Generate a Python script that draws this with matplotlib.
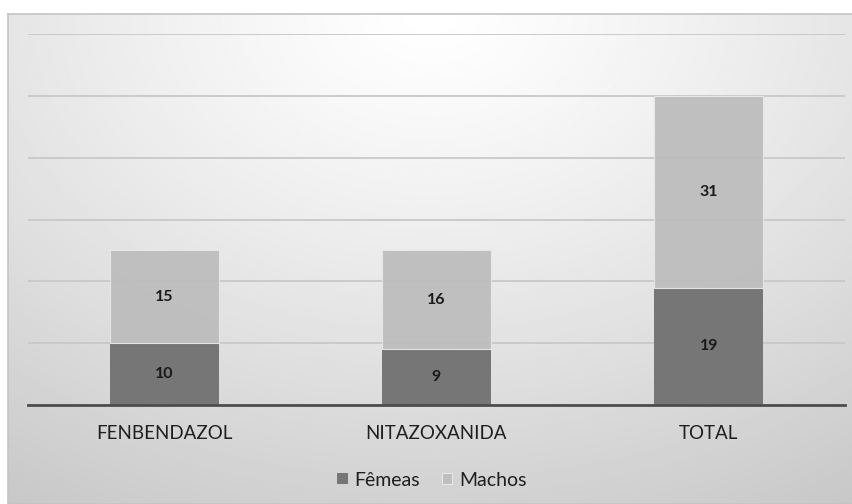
import numpy as np
import matplotlib
matplotlib.use('Agg')
import matplotlib.pyplot as plt

# data
categories = ['FENBENDAZOL', 'NITAZOXANIDA', 'TOTAL']
femeas = [10, 9, 19]
machos = [15, 16, 31]
series_names = ['Fêmeas', 'Machos']
colors = ['#737373', '#bdbdbd']

plt.rcParams['font.family'] = ['Lato', 'DejaVu Sans']

W, H = 853, 504
fig = plt.figure(figsize=(W / 100, H / 100), dpi=100)
fig.patch.set_facecolor('white')

# gradient background panel (chart area frame)
bg = fig.add_axes([8 / W, 0, 1 - 8 / W, 1 - 14 / H], zorder=0)
yy, xx = np.mgrid[0:1:300j, 0:1:500j]
r = np.sqrt(((xx - 0.5) / 0.85) ** 2 + ((yy - 0.0) / 1.05) ** 2)
shade = 1.0 - 0.19 * np.clip(r, 0, 1.2) ** 1.2
bg.imshow(shade, cmap='gray', vmin=0, vmax=1, aspect='auto',
          extent=[0, 1, 1, 0], interpolation='bilinear')
bg.set_xticks([])
bg.set_yticks([])
for s in bg.spines.values():
    s.set_color('#c4c4c4')
    s.set_linewidth(1.2)

ax = fig.add_axes([28 / W, 1 - 405 / H, (845 - 28) / W, (405 - 34) / H], zorder=1)
ax.patch.set_visible(False)

x = np.arange(len(categories))
b1 = ax.bar(x, femeas, width=0.4, color=colors[0], label=series_names[0],
            zorder=2, alpha=0.97)
b2 = ax.bar(x, machos, width=0.4, bottom=femeas, color=colors[1],
            label=series_names[1], zorder=2, alpha=0.95,
            edgecolor='#e8e8e8', linewidth=0.8)

for rect, v in zip(b1, femeas):
    ax.text(rect.get_x() + rect.get_width() / 2, rect.get_y() + v / 2, str(v),
            ha='center', va='center', fontsize=11.5, fontweight='bold', color='#1a1a1a', zorder=3)
for rect, v, f in zip(b2, machos, femeas):
    ax.text(rect.get_x() + rect.get_width() / 2, f + v / 2, str(v),
            ha='center', va='center', fontsize=11.5, fontweight='bold', color='#1a1a1a', zorder=3)

ax.set_xlim(-0.5, len(categories) - 0.5)
ax.set_ylim(0, 60)
ax.set_yticks(np.arange(0, 61, 10))
ax.yaxis.grid(True, color='#c8c8c8', linewidth=1.3, zorder=1)
ax.set_axisbelow(True)
ax.tick_params(axis='y', left=False, labelleft=False)
ax.tick_params(axis='x', bottom=False, labelsize=13.5, labelcolor='#1f1f1f', pad=11)
ax.set_xticks(x)
ax.set_xticklabels(categories)
for k in ['top', 'right', 'left']:
    ax.spines[k].set_visible(False)
ax.spines['bottom'].set_color('#4d4d4d')
ax.spines['bottom'].set_linewidth(2)
ax.spines['bottom'].set_zorder(4)

leg = fig.legend(loc='center', bbox_to_anchor=(432 / W, 1 - 480 / H), ncol=2,
                 frameon=False, fontsize=14, handlelength=0.55, handleheight=0.55,
                 handletextpad=0.35, columnspacing=1.1)
for t in leg.get_texts():
    t.set_color('#1f1f1f')

fig.savefig('out.png', dpi=100)
